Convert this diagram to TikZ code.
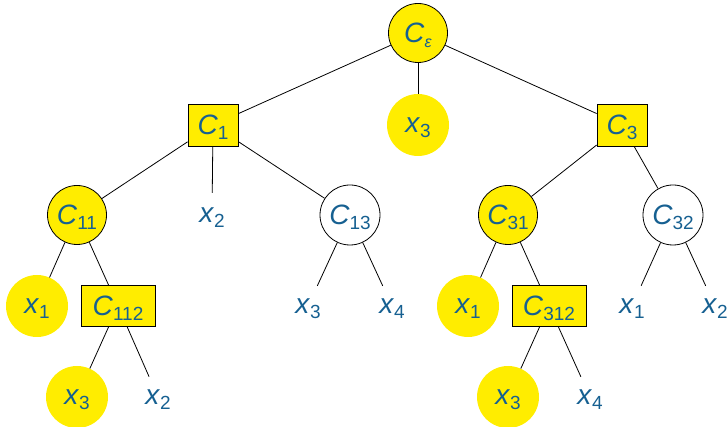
\documentclass[tikz,border=0pt]{standalone}
\usepackage{fontspec}
\setmainfont{Liberation Sans}
\definecolor{txt}{RGB}{22,96,145}
\definecolor{yel}{RGB}{255,237,0}
\newcommand{\Cn}[1]{\textit{C}\raisebox{-5pt}[0pt][0pt]{\fontsize{19}{19}\selectfont #1}}
\newcommand{\Ce}{\textit{C}\raisebox{-5pt}[0pt][0pt]{\fontsize{16}{16}\selectfont\textit{ε}}}
\newcommand{\Xn}[1]{\textit{x}\raisebox{-5pt}[0pt][0pt]{\fontsize{19}{19}\selectfont #1}}
\tikzset{
  every node/.style={font=\fontsize{28}{32}\selectfont, text=txt, inner sep=0pt},
  ccirc/.style={circle, draw=black, fill=yel, line width=0.8pt, minimum size=59},
  wcirc/.style={circle, draw=black, fill=white, line width=0.8pt, minimum size=60},
  crect/.style={rectangle, draw=black, fill=yel, line width=0.8pt, minimum width=50, minimum height=42},
  lrect/.style={rectangle, draw=black, fill=yel, line width=0.8pt, minimum width=74, minimum height=41},
  xcirc/.style={circle, fill=yel, minimum size=62},
  xtxt/.style={circle, minimum size=44},
  edge/.style={line width=0.8pt, black}
}
\begin{document}
\begin{tikzpicture}[x=1pt,y=-1pt]
\useasboundingbox (0,0) rectangle (728,427);
% level 0
\node[ccirc] (Ce) at (418,33) {\Ce};
% level 1
\node[crect] (C1) at (213,125) {\Cn{1}};
\node[xcirc] (r3) at (418,125) {\Xn{3}};
\node[crect] (C3) at (622,125) {\Cn{3}};
% level 2
\node[ccirc] (C11) at (77,215) {\Cn{11}};
\node[xtxt] (a2) at (212,215) {\Xn{2}};
\node[wcirc] (C13) at (350,215) {\Cn{13}};
\node[ccirc] (C31) at (508,215) {\Cn{31}};
\node[wcirc] (C32) at (673,215) {\Cn{32}};
% level 3
\node[xcirc] (b1) at (37,306) {\Xn{1}};
\node[lrect] (C112) at (118,306) {\Cn{112}};
\node[xtxt] (c3) at (308,306) {\Xn{3}};
\node[xtxt] (c4) at (392,306) {\Xn{4}};
\node[xcirc] (d1) at (468,306) {\Xn{1}};
\node[lrect] (C312) at (549,306) {\Cn{312}};
\node[xtxt] (e1) at (632,306) {\Xn{1}};
\node[xtxt] (e2) at (715,306) {\Xn{2}};
% level 4
\node[xcirc] (f3) at (77,397) {\Xn{3}};
\node[xtxt] (f2) at (158,397) {\Xn{2}};
\node[xcirc] (g3) at (508,397) {\Xn{3}};
\node[xtxt] (g4) at (590,397) {\Xn{4}};
% edges
\draw[edge] (Ce) -- (C1);
\draw[edge] (Ce) -- (r3);
\draw[edge] (Ce) -- (C3);
\draw[edge] (C1) -- (C11);
\draw[edge] (C1) -- (a2);
\draw[edge] (C1) -- (C13);
\draw[edge] (C3) -- (C31);
\draw[edge] (C3) -- (C32);
\draw[edge] (C11) -- (b1);
\draw[edge] (C11) -- (C112);
\draw[edge] (C13) -- (c3);
\draw[edge] (C13) -- (c4);
\draw[edge] (C31) -- (d1);
\draw[edge] (C31) -- (C312);
\draw[edge] (C32) -- (e1);
\draw[edge] (C32) -- (e2);
\draw[edge] (C112) -- (f3);
\draw[edge] (C112) -- (f2);
\draw[edge] (C312) -- (g3);
\draw[edge] (C312) -- (g4);
\end{tikzpicture}
\end{document}
